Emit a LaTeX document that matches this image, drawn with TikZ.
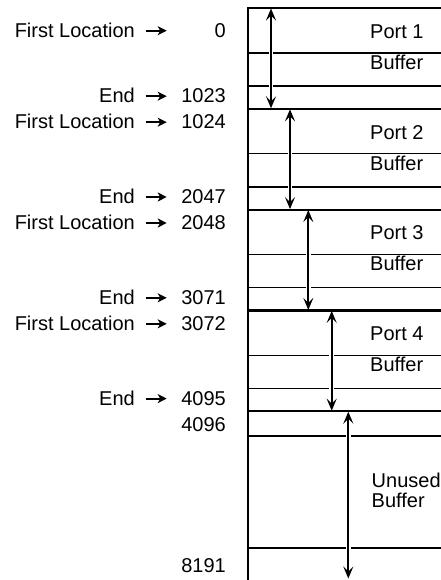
\documentclass[tikz,border=0pt]{standalone}
\usepackage{fontspec}
\setmainfont{Liberation Sans}
\usetikzlibrary{arrows.meta}
\begin{document}
\begin{tikzpicture}[x=1bp,y=-1bp,
  lbl/.style={inner sep=0pt, anchor=base east, font=\fontsize{20bp}{24bp}\selectfont},
  txt/.style={inner sep=0pt, anchor=base west, font=\fontsize{20bp}{24bp}\selectfont},
  thinline/.style={line width=1.4bp},
  thickline/.style={line width=2.2bp},
  span/.style={line width=1.8bp,
    {Stealth[length=12bp,width=10bp,inset=5bp]}-{Stealth[length=12bp,width=10bp,inset=5bp]},
    preaction={draw=white,line width=4.5bp,shorten >=7bp,shorten <=7bp,-}},
  ptr/.style={line width=1.8bp, -{Stealth[length=9bp,width=9bp,inset=2.5bp]}}]
\useasboundingbox (0,0) rectangle (441,580);

% memory column
\draw[thickline] (248,580) -- (248,8) -- (441,8);
\foreach \k in {0,...,3}{
  \pgfmathsetmacro\t{8+100.8*\k}
  \draw[thinline] (248,\t+45) -- (441,\t+45);
  \draw[thinline] (248,\t+78) -- (441,\t+78);
  \draw[thickline] (248,\t+100.8) -- (441,\t+100.8);
}
\draw[thinline] (248,436) -- (441,436);
\draw[thinline] (248,548) -- (441,548);

% section labels
\foreach \k in {1,...,4}{
  \pgfmathsetmacro\t{8+100.8*(\k-1)}
  \node[txt] (port\k) at (370,\t+30.3) {Port \k};
  \node[txt] (buf\k) at (370,\t+61.3) {Buffer};
}
\node[txt] (unused) at (371.5,487.3) {Unused};
\node[txt] (unusedb) at (371.5,507.3) {Buffer};

% span arrows
\foreach \k/\x in {0/271,1/290,2/308.3,3/331.7}{
  \pgfmathsetmacro\t{8+100.8*\k}
  \coordinate (st\k) at (\x,\t+0.5);
  \coordinate (sb\k) at (\x,\t+100.3);
  \draw[span] (st\k) -- (sb\k);
}
\coordinate (st4) at (348.3,411.7);
\coordinate (sb4) at (348.3,578.5);
\draw[span] (st4) -- (sb4);

% address labels
\foreach \k/\a/\b in {0/0/1023,1/1024/2047,2/2048/3071,3/3072/4095}{
  \pgfmathsetmacro\t{8+100.8*\k}
  \pgfmathsetmacro\fy{ifthenelse(\k==0,37.3,\t+20)}
  \pgfmathsetmacro\ey{\t+94.8}
  \node[lbl] (fl\k) at (135,\fy) {First Location};
  \node[lbl] (fn\k) at (226,\fy) {\a};
  \coordinate (fa\k) at (145.7,\fy-6.6);
  \coordinate (fb\k) at (166.7,\fy-6.6);
  \draw[ptr] (fa\k) -- (fb\k);
  \node[lbl] (el\k) at (135,\ey) {End};
  \node[lbl] (en\k) at (226,\ey) {\b};
  \coordinate (ea\k) at (145.7,\ey-6.6);
  \coordinate (eb\k) at (166.7,\ey-6.6);
  \draw[ptr] (ea\k) -- (eb\k);
}
\node[lbl] (n4096) at (226,431.7) {4096};
\node[lbl] (n8191) at (226,572.7) {8191};
\end{tikzpicture}
\end{document}
